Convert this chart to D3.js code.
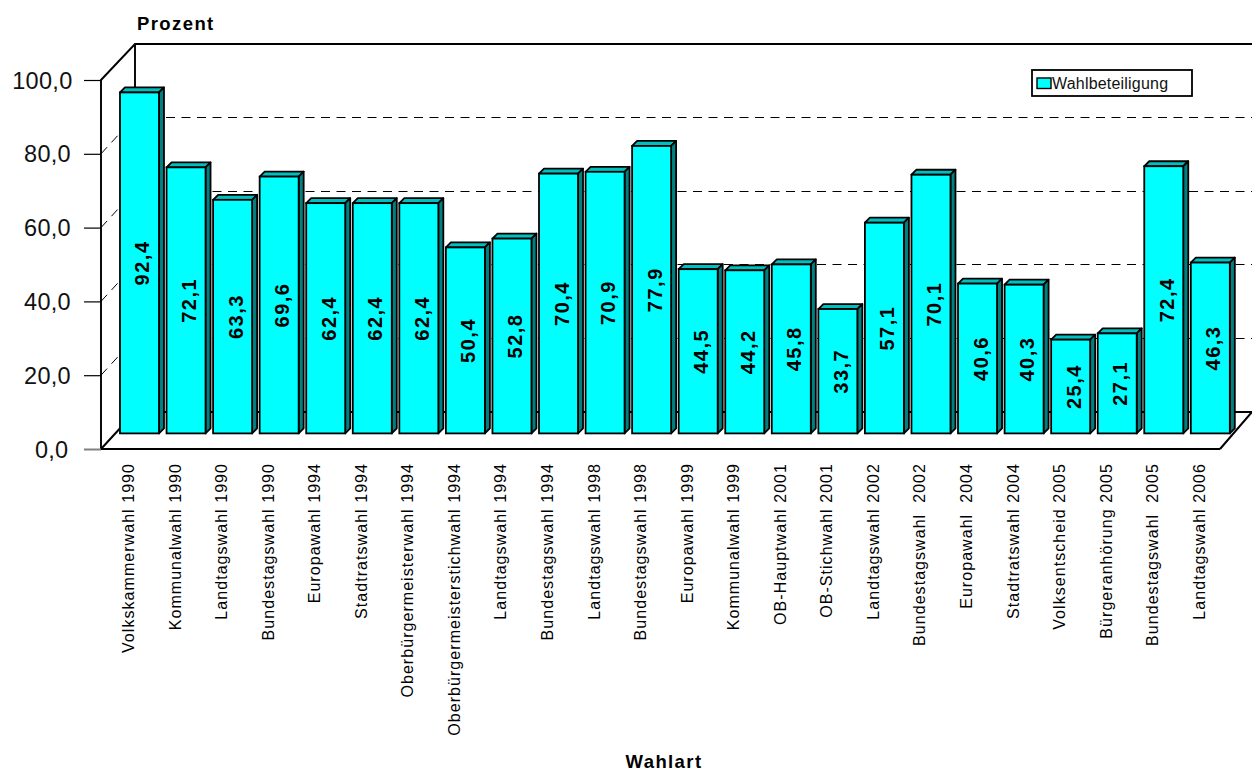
<!DOCTYPE html>
<html><head><meta charset="utf-8">
<script src="https://cdn.jsdelivr.net/npm/d3@7"></script>
<style>html,body{margin:0;background:#fff}svg{display:block;font-family:"Liberation Sans",Arial,sans-serif}</style>
</head><body><svg id="c" width="1252" height="772"></svg>
<script>
const categories=["Volkskammerwahl 1990","Kommunalwahl 1990","Landtagswahl 1990","Bundestagswahl 1990","Europawahl 1994","Stadtratswahl 1994","Oberbürgermeisterwahl 1994","Oberbürgermeisterstichwahl 1994","Landtagswahl 1994","Bundestagswahl 1994","Landtagswahl 1998","Bundestagswahl 1998","Europawahl 1999","Kommunalwahl 1999","OB-Hauptwahl 2001","OB-Stichwahl 2001","Landtagswahl 2002","Bundestagswahl  2002","Europawahl  2004","Stadtratswahl 2004","Volksentscheid 2005","Bürgeranhörung 2005","Bundestagswahl  2005","Landtagswahl 2006"];
const values=[92.4,72.1,63.3,69.6,62.4,62.4,62.4,50.4,52.8,70.4,70.9,77.9,44.5,44.2,45.8,33.7,57.1,70.1,40.6,40.3,25.4,27.1,72.4,46.3];
const yTicks=[0,20,40,60,80,100];
const seriesName="Wahlbeteiligung", yTitle="Prozent", xTitle="Wahlart";
const fmt=v=>v.toFixed(1).replace(".",",");
const svg=d3.select("#c");
const y=d3.scaleLinear().domain([0,100]).range([449,80]);
const x=d3.scaleBand().domain(categories).range([116.2,1233.6]).paddingInner(0.1624).paddingOuter(0.0812);
const dy=-37, barDy=-15.6, d=5;
// walls
svg.append("path").attr("d",`M101,449L101,80L135,44L1252,44`).attr("fill","none").attr("stroke","#000").attr("stroke-width",1.9);
svg.append("line").attr("x1",135).attr("x2",135).attr("y1",44).attr("y2",412).attr("stroke","#000").attr("stroke-width",1.9);
// gridlines
const grid=yTicks.filter(t=>t>0&&t<100);
const gy=t=>Math.floor(y(t)+dy+0.4)+0.5;
svg.selectAll(".g").data(grid).join("line").attr("x1",135).attr("x2",1252).attr("y1",gy).attr("y2",gy)
 .attr("stroke","#000").attr("stroke-width",1).attr("stroke-dasharray","9,6.5");
svg.selectAll(".s").data(grid).join("line").attr("x1",101).attr("x2",135).attr("y1",t=>y(t)).attr("y2",t=>y(t)+dy)
 .attr("stroke","#000").attr("stroke-width",1).attr("stroke-dasharray","9,6.5");
// floor
svg.append("path").attr("d",`M135,412L1252,412`).attr("stroke","#000").attr("stroke-width",1.9);
svg.append("path").attr("d",`M101,449L135,412M1220,449L1252,412`).attr("stroke","#000").attr("stroke-width",2).attr("fill","none");
// y axis
const ax=svg.append("g").attr("transform","translate(101,0)").call(d3.axisLeft(y).tickValues(yTicks).tickFormat(fmt).tickSize(17).tickSizeOuter(0));
ax.select(".domain").remove();
ax.selectAll(".tick line").attr("stroke",t=>t===0?"#808080":"#000").attr("stroke-width",t=>t===0?2:1.2);
ax.selectAll(".tick text").attr("font-size",23.5).attr("font-family","Liberation Sans").attr("fill","#111").attr("letter-spacing",0.3)
 .attr("x",t=>t===100?-28.5:t===0?-32.5:-30).attr("dy","0.34em");
// bars
const b=svg.selectAll(".b").data(categories).join("g");
const X=c=>x(c), W=x.bandwidth(), base=y(0)+barDy;
const barTop=i=>y(values[i])+barDy;
b.append("path").attr("d",(c,i)=>`M${X(c)},${barTop(i)}l${d},${-d}h${W}l${-d},${d}z`).attr("fill","#00BFBF").attr("stroke","#000").attr("stroke-width",1.8).attr("stroke-linejoin","round");
b.append("path").attr("d",(c,i)=>`M${X(c)+W},${barTop(i)}l${d},${-d}V${base-d}l${-d},${d}z`).attr("fill","#008080").attr("stroke","#000").attr("stroke-width",1.8).attr("stroke-linejoin","round");
b.append("rect").attr("x",c=>X(c)).attr("y",(c,i)=>barTop(i)).attr("width",W).attr("height",(c,i)=>base-barTop(i)).attr("fill","#00FFFF").attr("stroke","#000").attr("stroke-width",1.8);
// value labels
b.append("text").attr("transform",(c,i)=>`translate(${X(c)+W/2+10},${(barTop(i)+base)/2}) rotate(-90)`).attr("text-anchor","middle")
 .attr("font-size",20).attr("font-weight","bold").attr("letter-spacing",1.5).attr("fill","#000").text((c,i)=>fmt(values[i]));
// front axis
svg.append("line").attr("x1",101).attr("x2",1220).attr("y1",449).attr("y2",449).attr("stroke","#000").attr("stroke-width",2);
// category labels
const cx=svg.append("g").attr("transform","translate(0,449)").call(d3.axisBottom(x).tickSize(0));
cx.select(".domain").remove();
cx.selectAll(".tick text").attr("transform","translate(-5.5,14) rotate(-90)").attr("text-anchor","end").attr("x",0).attr("y",0).attr("dy",0)
 .attr("font-size",16).attr("font-family","Liberation Sans").attr("letter-spacing",1.05).attr("fill","#000").style("white-space","pre");
// titles
svg.append("text").attr("x",137).attr("y",30).attr("font-size",18.5).attr("font-weight","bold").attr("letter-spacing",1.4).text(yTitle);
svg.append("text").attr("x",664).attr("y",767.5).attr("text-anchor","middle").attr("font-size",18.5).attr("font-weight","bold").attr("letter-spacing",1.4).text(xTitle);
// legend
svg.append("rect").attr("x",1032).attr("y",70).attr("width",160).attr("height",26).attr("fill","#fff").attr("stroke","#000").attr("stroke-width",1.8);
svg.append("rect").attr("x",1037).attr("y",78).attr("width",14).attr("height",10.5).attr("fill","#00FFFF").attr("stroke","#000").attr("stroke-width",1.4);
svg.append("text").attr("x",1052).attr("y",89).attr("font-size",16).attr("letter-spacing",0.2).attr("fill","#111").text(seriesName);
</script></body></html>
